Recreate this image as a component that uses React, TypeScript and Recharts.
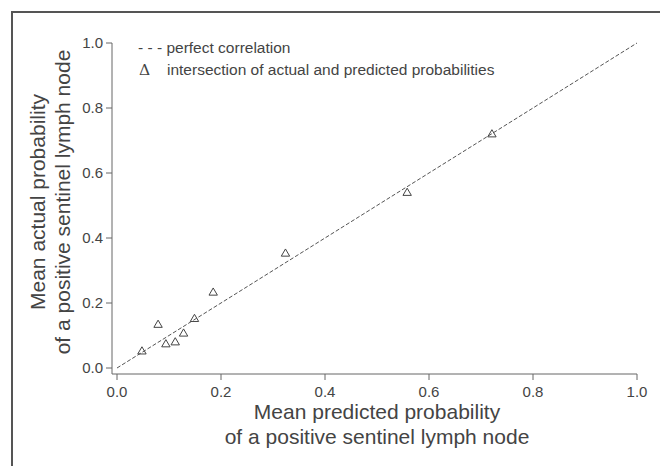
import { ScatterChart, Scatter, XAxis, YAxis, ReferenceLine } from "recharts";

const predicted = [0.048, 0.079, 0.094, 0.112, 0.128, 0.149, 0.185, 0.324, 0.558, 0.721];
const actual = [0.052, 0.134, 0.074, 0.08, 0.107, 0.152, 0.233, 0.353, 0.54, 0.72];
const ticks = [0, 0.2, 0.4, 0.6, 0.8, 1.0];
const perfectLine = [
  { x: 0, y: 0 },
  { x: 1, y: 1 },
];

const data = predicted.map((p, i) => ({ x: p, y: actual[i] }));

const FONT = "'Liberation Sans', Arial, sans-serif";
const INK = "#444";

function Triangle(props: any) {
  const { cx, cy } = props;
  const w = 4.2;
  const h = 7.2;
  return (
    <path
      d={`M${cx},${cy - h * 0.6} L${cx + w},${cy + h * 0.4} L${cx - w},${cy + h * 0.4} Z`}
      fill="none"
      stroke="#444"
      strokeWidth={1}
    />
  );
}

function XTick(props: any) {
  const { x, y, payload } = props;
  return (
    <text x={x} y={y} dy={14} textAnchor="middle" fontFamily={FONT} fontSize={15} fill={INK}>
      {Number(payload.value).toFixed(1)}
    </text>
  );
}

function YTick(props: any) {
  const { x, y, payload } = props;
  return (
    <text x={x} y={y} dy={5} textAnchor="end" fontFamily={FONT} fontSize={15} fill={INK}>
      {Number(payload.value).toFixed(1)}
    </text>
  );
}

export default function App() {
  return (
    <div
      style={{
        position: "absolute",
        left: 0,
        top: 0,
        width: 660,
        height: 466,
        background: "#fff",
        overflow: "hidden",
      }}
    >
      {/* frame */}
      <div
        style={{
          position: "absolute",
          left: 11,
          top: 11,
          width: 649,
          height: 455,
          borderTop: "2px solid #555",
          borderLeft: "2px solid #555",
        }}
      />
      <ScatterChart
        width={660}
        height={466}
        margin={{ top: 43, right: 23, bottom: 62, left: 0 }}
        style={{ position: "absolute", left: 0, top: 0 }}
      >
        <XAxis
          type="number"
          dataKey="x"
          domain={[0, 1]}
          ticks={ticks}
          padding={{ left: 5, right: 0 }}
          height={30}
          tick={<XTick />}
          tickSize={6}
          tickMargin={3}
          stroke="#666"
          interval={0}
        />
        <YAxis
          type="number"
          dataKey="y"
          domain={[0, 1]}
          ticks={ticks}
          padding={{ top: 0, bottom: 6 }}
          width={112}
          tick={<YTick />}
          tickSize={6}
          tickMargin={3}
          stroke="#666"
          interval={0}
        />
        <ReferenceLine
          segment={perfectLine}
          stroke="#555"
          strokeDasharray="4 2"
          strokeWidth={1}
        />
        <Scatter data={data} shape={<Triangle />} isAnimationActive={false} />
      </ScatterChart>

      {/* legend */}
      <div
        style={{
          position: "absolute",
          left: 138,
          top: 37,
          fontFamily: FONT,
          fontSize: 15.5,
          color: INK,
          lineHeight: "22px",
          whiteSpace: "nowrap",
        }}
      >
        <div>- - - perfect correlation</div>
        <div>
          <span style={{ fontFamily: "'DejaVu Serif', serif", display: "inline-block", width: 28, paddingLeft: 1 }}>
            Δ
          </span>
          intersection of actual and predicted probabilities
        </div>
      </div>

      {/* y axis title */}
      <div
        style={{
          position: "absolute",
          left: 50,
          top: 202,
          width: 400,
          transform: "translate(-50%, -50%) rotate(-90deg)",
          textAlign: "center",
          fontFamily: FONT,
          fontSize: 21,
          color: INK,
          lineHeight: "25px",
        }}
      >
        <div>Mean actual probability</div>
        <div>of a positive sentinel lymph node</div>
      </div>

      {/* x axis title */}
      <div
        style={{
          position: "absolute",
          left: 377,
          top: 399,
          width: 440,
          transform: "translateX(-50%)",
          textAlign: "center",
          fontFamily: FONT,
          fontSize: 21,
          color: INK,
          lineHeight: "25px",
        }}
      >
        <div>Mean predicted probability</div>
        <div>of a positive sentinel lymph node</div>
      </div>
    </div>
  );
}
